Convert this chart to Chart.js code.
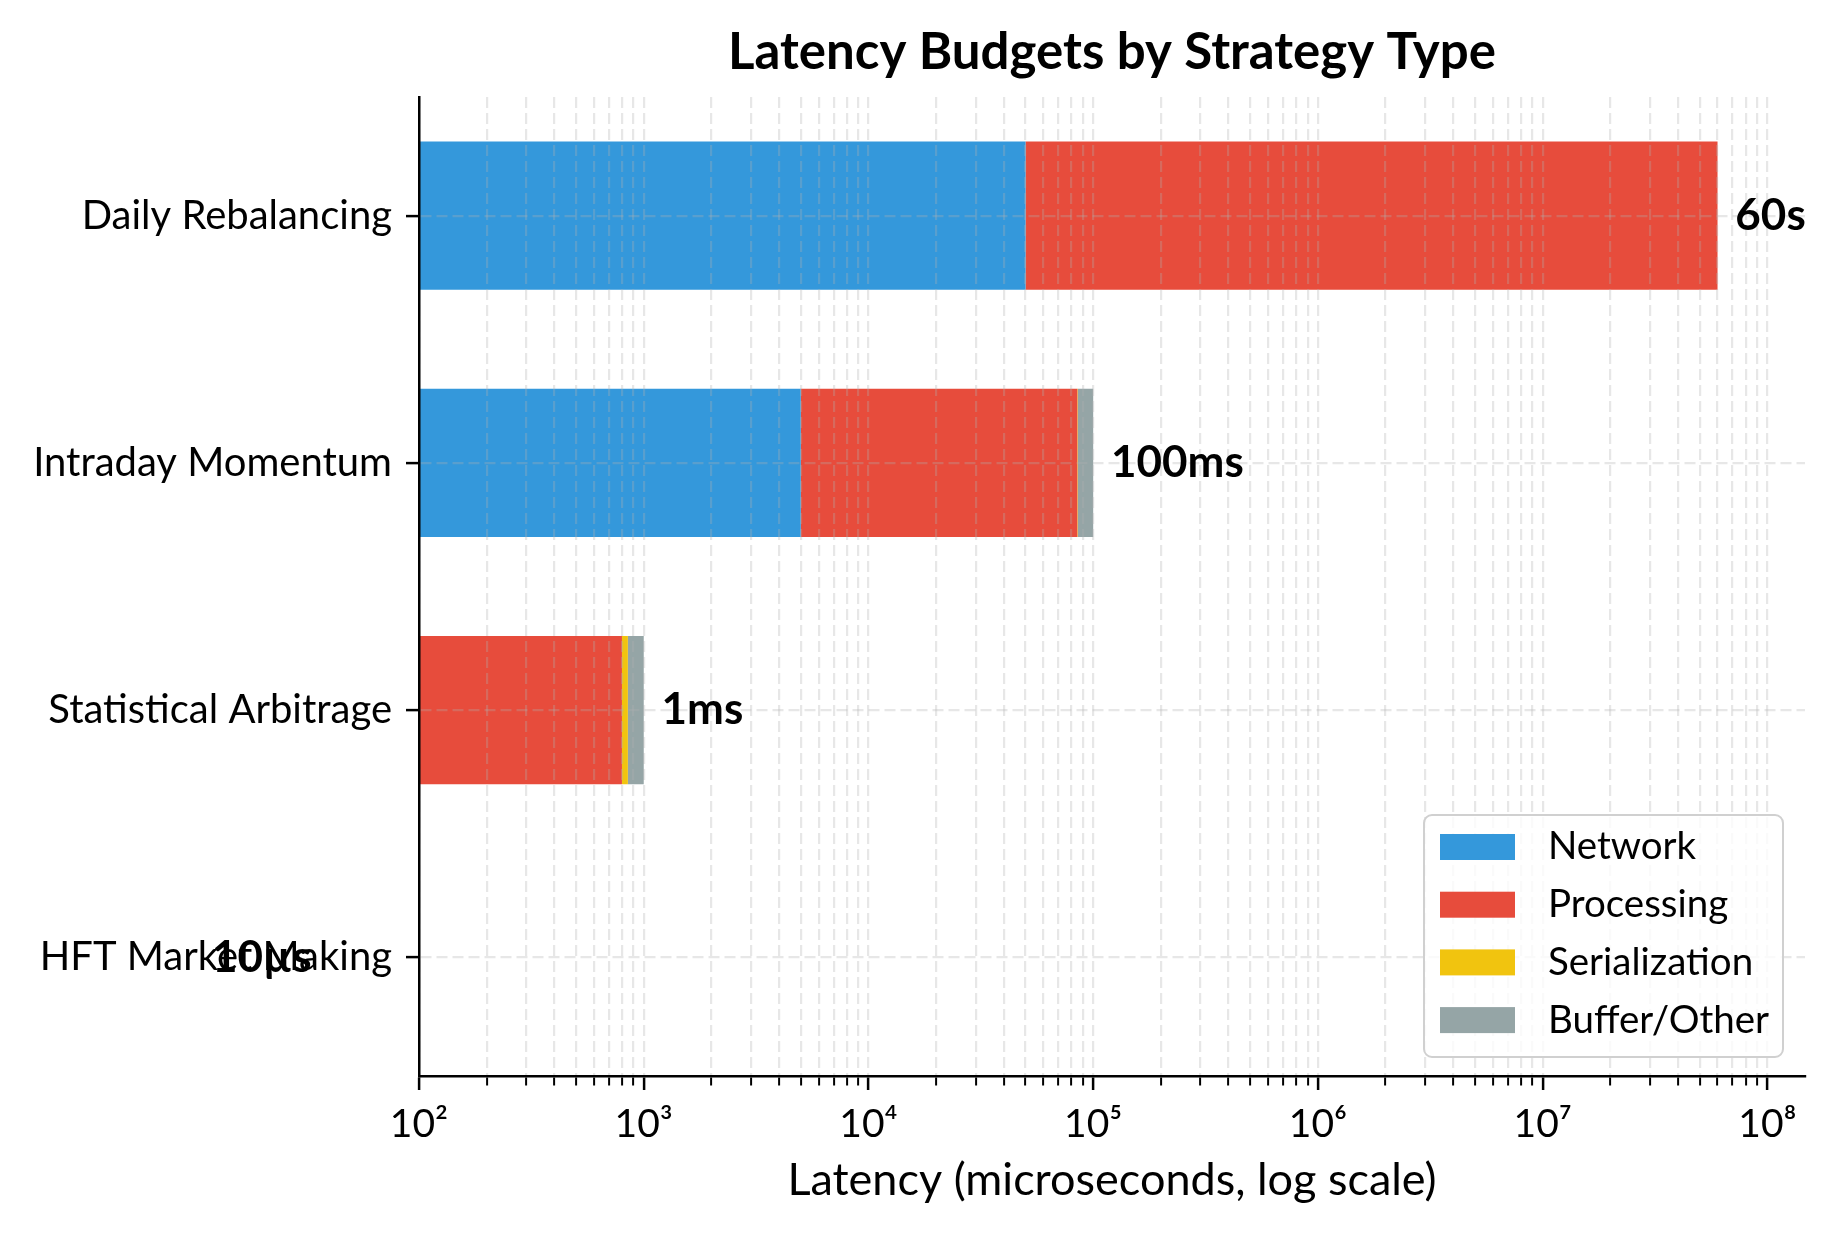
<!DOCTYPE html>
<html>
<head>
<meta charset="utf-8">
<title>Latency Budgets by Strategy Type</title>
<script src="https://cdn.jsdelivr.net/npm/chart.js"></script>
<style>
  html, body { margin: 0; padding: 0; background: #fff; }
  canvas { display: block; }
</style>
</head>
<body>
<canvas id="chart" width="1835" height="1234"></canvas>
<script>
// Стратегии, сверху вниз
const strategies = ['Daily Rebalancing', 'Intraday Momentum', 'Statistical Arbitrage', 'HFT Market Making'];

// Составляющие бюджета задержки, микросекунды
const network       = [50000,    5000,  100, 3];
const processing    = [59940000, 80000, 700, 4];
const serialization = [2000,     500,   50,  1];
const bufferOther   = [8000,     14500, 150, 2];

// Подписи итогов справа от полос
const totalLabels = ['60s', '100ms', '1ms', '10µs'];

// Деления логарифмической оси
const decades = [2, 3, 4, 5, 6, 7, 8];
const decadeLabels = ['10²', '10³', '10⁴', '10⁵', '10⁶', '10⁷', '10⁸'];

const FONT = 'Lato';
Chart.defaults.font.family = FONT;
Chart.defaults.color = '#000';

const gridColor = 'rgba(176,176,176,0.3)';

function isDecade(v) {
    const l = Math.log10(v);
    return Math.abs(l - Math.round(l)) < 1e-9;
}

// Заголовок, подписи итогов и легенда поверх графика
const overlay = {
    id: 'overlay',
    afterDraw(chart) {
        const {ctx, chartArea: area, scales: {x, y}} = chart;
        ctx.save();
        ctx.fillStyle = '#000';
        ctx.textBaseline = 'middle';

        ctx.font = 'bold 51px ' + FONT;
        ctx.textAlign = 'center';
        ctx.fillText('Latency Budgets by Strategy Type', (area.left + area.right) / 2, 53);

        ctx.font = 'bold 44px ' + FONT;
        ctx.textAlign = 'left';
        strategies.forEach((s, i) => {
            const total = network[i] + processing[i] + serialization[i] + bufferOther[i];
            ctx.fillText(totalLabels[i], x.getPixelForValue(total * 1.2), y.getPixelForValue(i));
        });

        // легенда в правом нижнем углу
        const w = 359, h = 242;
        const left = area.right - 22 - w;
        const top = area.bottom - 19 - h;
        ctx.beginPath();
        ctx.roundRect(left, top, w, h, 8);
        ctx.fillStyle = 'rgba(255,255,255,0.8)';
        ctx.fill();
        ctx.lineWidth = 2;
        ctx.strokeStyle = '#d0d0d0';
        ctx.stroke();

        ctx.font = '38.5px ' + FONT;
        chart.data.datasets.forEach((ds, i) => {
            const cy = top + 32 + i * 57.7;
            ctx.fillStyle = ds.backgroundColor;
            ctx.fillRect(left + 16, cy - 13, 75, 26);
            ctx.fillStyle = '#000';
            ctx.fillText(ds.label, left + 124, cy);
        });
        ctx.restore();
    }
};

new Chart(document.getElementById('chart'), {
    type: 'bar',
    data: {
        labels: strategies.map((s, i) => i),
        datasets: [
            { label: 'Network', data: network, backgroundColor: '#3498db' },
            { label: 'Processing', data: processing, backgroundColor: '#e74c3c' },
            { label: 'Serialization', data: serialization, backgroundColor: '#f1c40f' },
            { label: 'Buffer/Other', data: bufferOther, backgroundColor: '#95a5a6' }
        ]
    },
    options: {
        indexAxis: 'y',
        responsive: false,
        animation: false,
        devicePixelRatio: 1,
        layout: { padding: { top: 97, right: 30, left: 0, bottom: 0 } },
        datasets: {
            bar: { barPercentage: 0.6, categoryPercentage: 1, clip: 0, borderWidth: 0 }
        },
        plugins: {
            legend: { display: false },
            tooltip: { enabled: false }
        },
        scales: {
            x: {
                type: 'logarithmic',
                position: 'bottom',
                stacked: true,
                min: 100,
                max: 1.47e8,
                afterBuildTicks: (s) => {
                    const t = [];
                    decades.forEach((d, k) => {
                        const n = k < decades.length - 1 ? 9 : 1;
                        for (let m = 1; m <= n; m++) t.push({ value: m * Math.pow(10, d), major: m === 1 });
                    });
                    s.ticks = t;
                },
                afterFit: (s) => { s.height = 158; },
                grid: {
                    z: 1,
                    color: gridColor,
                    lineWidth: 2.2,
                    tickLength: 14,
                    tickColor: '#000',
                    tickWidth: (c) => (c.tick && isDecade(c.tick.value)) ? 2.5 : 2,
                    tickBorderDash: (c) => (c.tick && isDecade(c.tick.value)) ? [] : [8, 40]
                },
                border: { color: '#000', width: 2.5, dash: [11, 5], z: 2 },
                ticks: {
                    color: '#000',
                    font: { size: 39 },
                    padding: 11,
                    autoSkip: false,
                    maxRotation: 0,
                    callback: (v) => {
                        if (!isDecade(v)) return '';
                        const k = decades.indexOf(Math.round(Math.log10(v)));
                        return k >= 0 ? decadeLabels[k] : '';
                    }
                },
                title: {
                    display: true,
                    text: 'Latency (microseconds, log scale)',
                    color: '#000',
                    font: { size: 45 },
                    padding: { top: 0, bottom: 27 }
                }
            },
            y: {
                type: 'linear',
                stacked: true,
                reverse: true,
                offset: false,
                min: -0.48,
                max: 3.48,
                afterBuildTicks: (s) => { s.ticks = strategies.map((name, i) => ({ value: i })); },
                afterFit: (s) => { s.width = 419; },
                grid: {
                    z: 1,
                    offset: false,
                    color: gridColor,
                    lineWidth: 2.2,
                    tickLength: 13,
                    tickColor: '#000',
                    tickWidth: 2.5,
                    tickBorderDash: []
                },
                border: { color: '#000', width: 2.5, dash: [11, 5], z: 2 },
                ticks: {
                    color: '#000',
                    font: { size: 40 },
                    padding: 14,
                    callback: (v) => strategies[v]
                }
            }
        }
    },
    plugins: [overlay]
});
</script>
</body>
</html>
